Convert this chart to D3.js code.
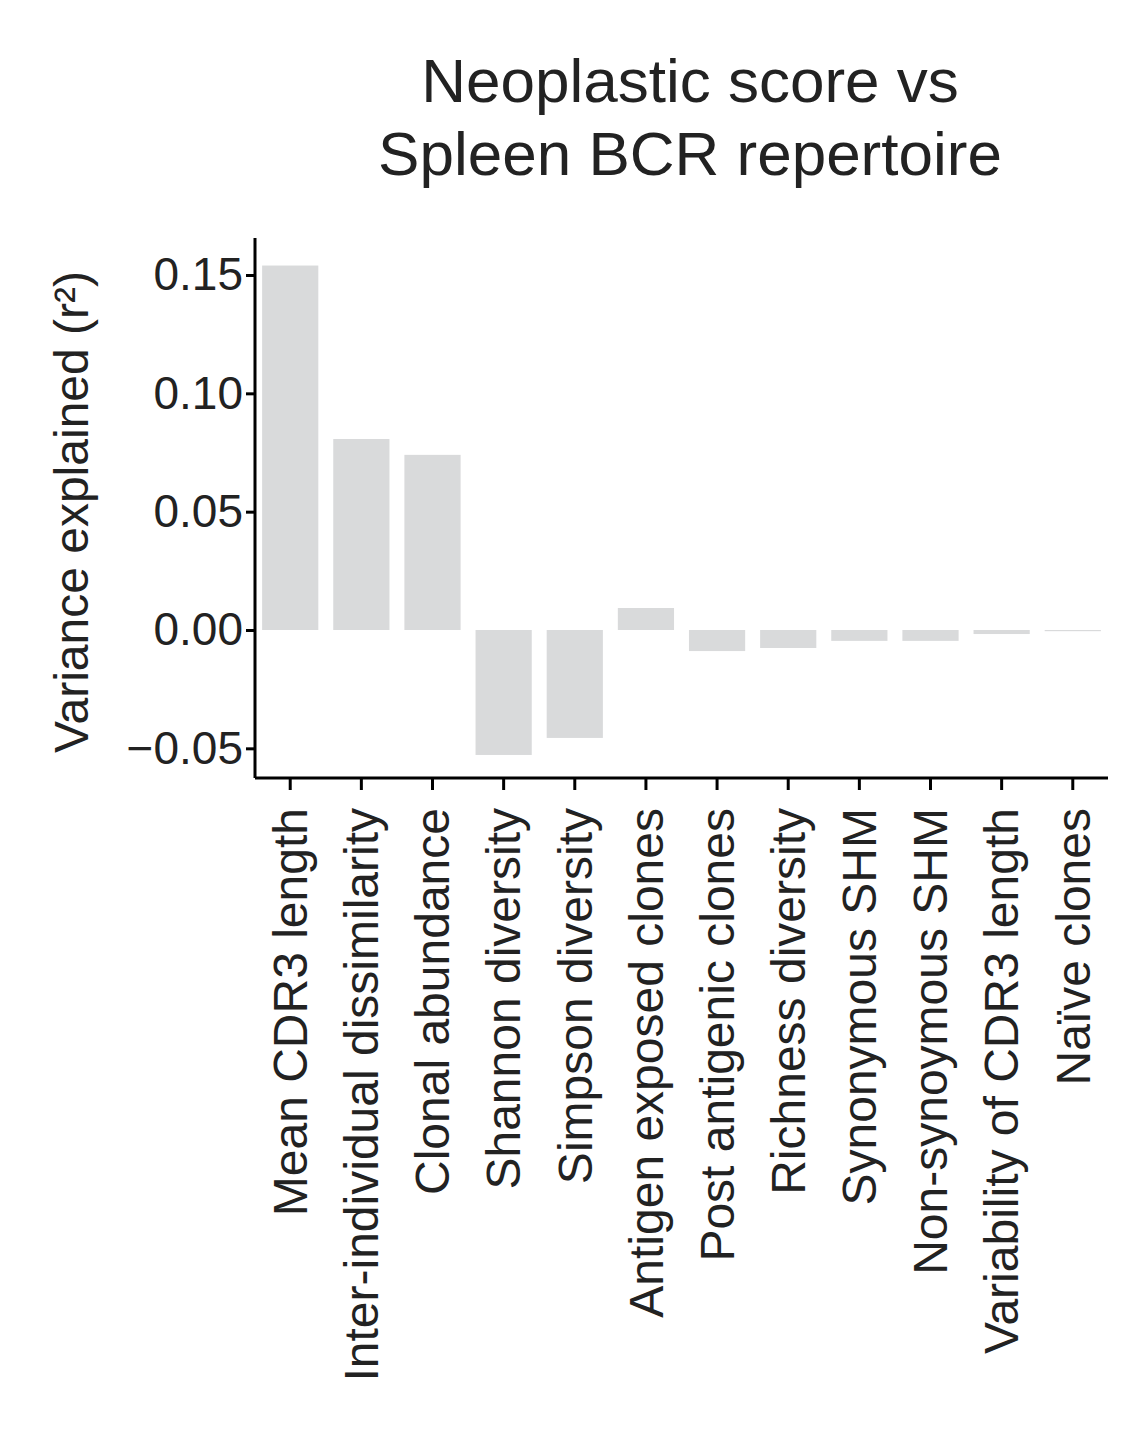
<!DOCTYPE html>
<html><head><meta charset="utf-8">
<script src="https://cdn.jsdelivr.net/npm/d3@7"></script>
<style>body{margin:0;background:#fff}</style>
</head><body>
<script>
const categories = ["Mean CDR3 length","Inter-individual dissimilarity","Clonal abundance","Shannon diversity","Simpson diversity","Antigen exposed clones","Post antigenic clones","Richness diversity","Synonymous SHM","Non-synoymous SHM","Variability of CDR3 length","Naïve clones"];
const values = [0.154, 0.0807, 0.074, -0.0528, -0.0456, 0.0093, -0.0089, -0.0076, -0.0046, -0.0046, -0.0017, -0.0005];
const ticks = [-0.05, 0, 0.05, 0.10, 0.15];

const W = 1122, H = 1453;
const svg = d3.select("body").append("svg").attr("width", W).attr("height", H);
const font = "Liberation Sans, Arial, sans-serif";
const x = d3.scaleBand().domain(categories).range([255, 1108]).paddingInner(0.21).paddingOuter(0.1);
const y = d3.scaleLinear().domain([0, 0.15]).range([630, 275]);

svg.selectAll("rect.bar").data(values).enter().append("rect")
  .attr("x", (d, i) => x(categories[i])).attr("width", x.bandwidth())
  .attr("y", d => y(Math.max(0, d))).attr("height", d => Math.abs(y(d) - y(0)))
  .attr("fill", "#d9dadb");

const ya = svg.append("g").attr("transform", "translate(255,0)")
  .call(d3.axisLeft(y).tickValues(ticks).tickFormat(d => d3.format(".2f")(d).replace("-", "−")).tickSize(9).tickSizeOuter(0));
ya.select(".domain").attr("d", "M0,238V778").attr("stroke-width", 3);
ya.selectAll(".tick line").attr("stroke-width", 3);
ya.selectAll("text").attr("font-size", 46).attr("font-family", font).attr("fill", "#222").attr("x", -12).attr("textLength", null);

const xa = svg.append("g").attr("transform", "translate(0,778)")
  .call(d3.axisBottom(x).tickSize(12).tickSizeOuter(0));
xa.select(".domain").attr("d", "M255,0H1108").attr("stroke-width", 3);
xa.selectAll(".tick line").attr("stroke-width", 3);
xa.selectAll("text").attr("font-size", 48).attr("font-family", font).attr("fill", "#222")
  .attr("transform", "rotate(-90)").attr("x", -30).attr("y", 0).attr("dy", "0.35em").attr("text-anchor", "end");

svg.append("text").attr("transform", "translate(88,512) rotate(-90)").attr("text-anchor", "middle")
  .attr("font-size", 48).attr("font-family", font).attr("fill", "#222").text("Variance explained (r²)");

const t = svg.append("text").attr("text-anchor", "middle").attr("font-size", 62).attr("font-family", font).attr("fill", "#222");
t.append("tspan").attr("x", 690).attr("y", 102).text("Neoplastic score vs");
t.append("tspan").attr("x", 690).attr("y", 175).text("Spleen BCR repertoire");
</script>
</body></html>
